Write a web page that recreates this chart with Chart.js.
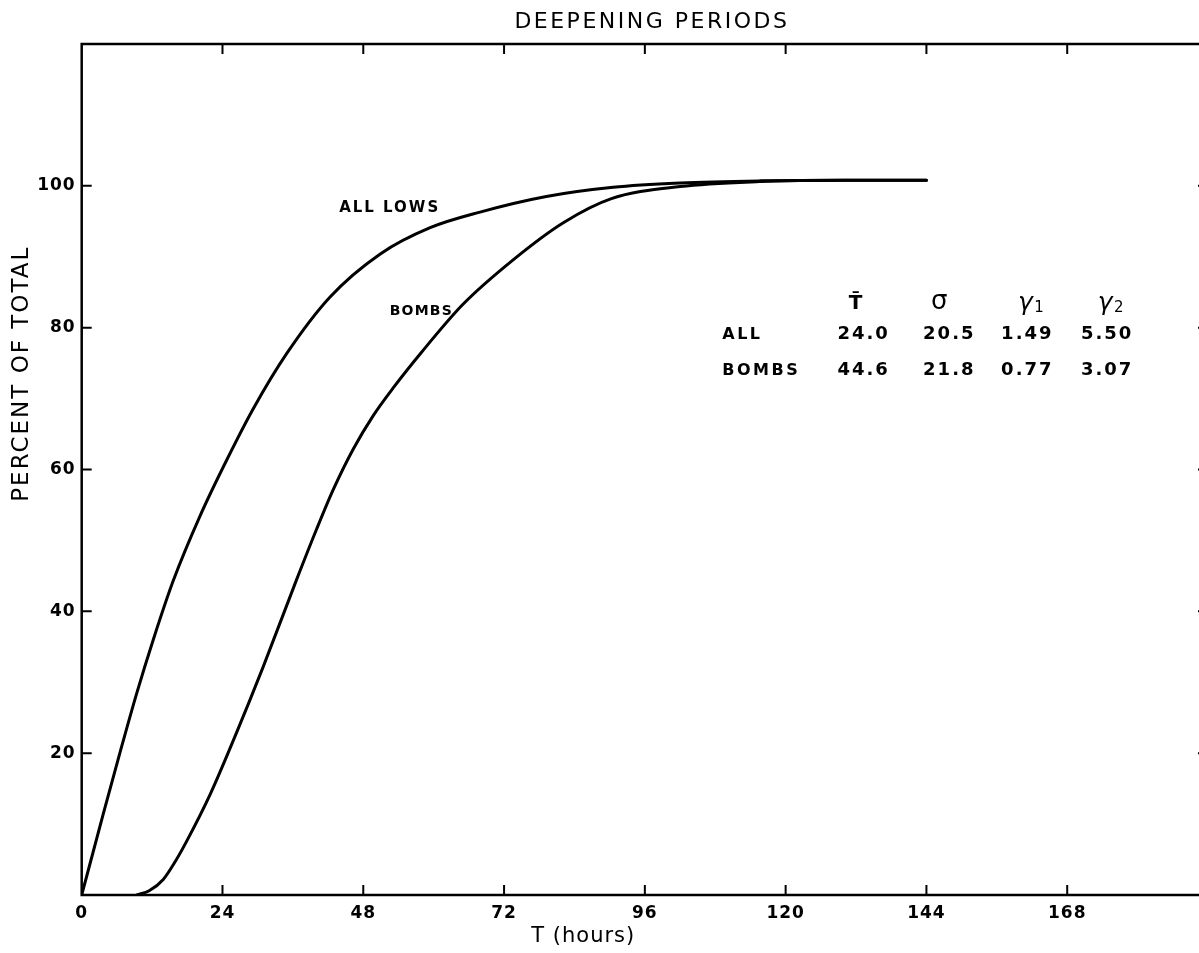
<!DOCTYPE html>
<html>
<head>
<meta charset="utf-8">
<script src="https://cdn.jsdelivr.net/npm/chart.js@4.4.1/dist/chart.umd.min.js"></script>
<style>
    html, body { margin: 0; padding: 0; background: #fff; overflow: hidden; }
    #wrap { position: absolute; left: 0; top: 0; width: 1212px; height: 953px; }
</style>
</head>
<body>
<div id="wrap"><canvas id="grafico" width="1212" height="953"></canvas></div>
<script>
// valores
var horasAll = [0, 3.7, 6.5, 9.4, 12.2, 15.6, 20.2, 24.7, 29.2, 34.9, 42.3, 50.9, 59.4, 67.9, 79.2, 90.6, 102, 115.6, 130, 144];
var pctAll = [0, 11.5, 20.0, 28.5, 36.0, 44.3, 53.5, 61.3, 68.5, 76.3, 84.3, 90.4, 94.1, 96.3, 98.5, 99.8, 100.4, 100.7, 100.8, 100.8];

var horasBombs = [9.4, 11.5, 13.9, 16.0, 17.9, 21.9, 26.4, 30.9, 36.6, 40.0, 42.9, 46.3, 49.7, 53.1, 57.9, 65, 73.6, 82.1, 90.3, 102, 115.6, 130, 144];
var pctBombs = [0, 0.6, 2.2, 4.8, 7.6, 14.2, 22.9, 32.1, 44.4, 51.5, 57.2, 62.9, 67.6, 71.5, 76.5, 83.3, 89.6, 94.8, 98.2, 99.9, 100.6, 100.8, 100.8];

var ticksX = [0, 24, 48, 72, 96, 120, 144, 168];
var ticksY = [20, 40, 60, 80, 100];

var nomesCurvas = ['ALL LOWS', 'BOMBS'];
var cabecalhoTabela = ['T\u0304', '\u03C3', '\u03B3', '\u03B3'];
var subscritos = ['', '', '1', '2'];
var linhasTabela = ['ALL', 'BOMBS'];
var estatAll = ['24.0', '20.5', '1.49', '5.50'];
var estatBombs = ['44.6', '21.8', '0.77', '3.07'];

var fonte = "'DejaVu Sans', sans-serif";

function pontos(xs, ys) {
    return xs.map(function (x, i) { return { x: x, y: ys[i] }; });
}

function texto(ctx, str, x, y, font, spacing, align, base) {
    ctx.save();
    ctx.font = font;
    ctx.letterSpacing = spacing + 'px';
    ctx.fillStyle = '#000';
    ctx.textAlign = align || 'center';
    ctx.textBaseline = base || 'middle';
    ctx.fillText(str, x, y);
    ctx.restore();
}

// moldura, marcas para dentro e textos
var extras = {
    id: 'extras',
    beforeDraw: function (chart) {
        chart.ctx.letterSpacing = '1px';
    },
    afterDraw: function (chart) {
        var ctx = chart.ctx;
        var a = chart.chartArea;
        var sx = chart.scales.x;
        var sy = chart.scales.y;
        var tam = 10;

        ctx.save();
        ctx.strokeStyle = '#000';
        ctx.lineWidth = 2.5;
        ctx.strokeRect(a.left, a.top, a.right - a.left, a.bottom - a.top);
        ctx.lineWidth = 2;
        ctx.beginPath();
        ticksX.forEach(function (v) {
            if (v === 0) return;
            var px = sx.getPixelForValue(v);
            ctx.moveTo(px, a.bottom); ctx.lineTo(px, a.bottom - tam);
            ctx.moveTo(px, a.top); ctx.lineTo(px, a.top + tam);
        });
        ticksY.forEach(function (v) {
            var py = sy.getPixelForValue(v);
            ctx.moveTo(a.left, py); ctx.lineTo(a.left + tam, py);
            ctx.moveTo(a.right, py); ctx.lineTo(a.right - tam, py);
        });
        ctx.stroke();
        ctx.restore();

        // titulos
        texto(ctx, 'DEEPENING PERIODS', sx.getPixelForValue(97.2), 22, '22px ' + fonte, 2.5);
        texto(ctx, 'T (hours)', sx.getPixelForValue(85.5), a.bottom + 42, '21px ' + fonte, 1);
        ctx.save();
        ctx.translate(a.left - 60, sy.getPixelForValue(73.5));
        ctx.rotate(-Math.PI / 2);
        texto(ctx, 'PERCENT OF TOTAL', 0, 0, '23px ' + fonte, 2);
        ctx.restore();

        // nomes das curvas
        texto(ctx, nomesCurvas[0], sx.getPixelForValue(52.5), sy.getPixelForValue(96.9), 'bold 15px ' + fonte, 2);
        texto(ctx, nomesCurvas[1], sx.getPixelForValue(57.9), sy.getPixelForValue(82.3), 'bold 14px ' + fonte, 1.2);

        // tabela
        var colunas = [133.3, 147.9, 161.2, 174.8];
        var yCab = sy.getPixelForValue(82.6);
        var yL1 = sy.getPixelForValue(78.4);
        var yL2 = sy.getPixelForValue(73.3);
        cabecalhoTabela.forEach(function (h, i) {
            var px = sx.getPixelForValue(colunas[i]);
            if (i === 0) {
                texto(ctx, h, px - 8, yCab, 'bold 20px ' + fonte, 0, 'center', 'alphabetic');
            } else if (i === 1) {
                texto(ctx, h, px - 10, yCab, '26px ' + fonte, 0, 'center', 'alphabetic');
            } else {
                texto(ctx, h, px - 2, yCab + 1, 'italic 25px ' + fonte, 0, 'center', 'alphabetic');
                texto(ctx, subscritos[i], px + 7, yCab + 3, '15px ' + fonte, 0, 'left', 'alphabetic');
            }
        });
        var xRot = sx.getPixelForValue(109.2);
        texto(ctx, linhasTabela[0], xRot, yL1, 'bold 16px ' + fonte, 2.5, 'left', 'alphabetic');
        texto(ctx, linhasTabela[1], xRot, yL2, 'bold 16px ' + fonte, 2.5, 'left', 'alphabetic');
        estatAll.forEach(function (v, i) {
            texto(ctx, v, sx.getPixelForValue(colunas[i]), yL1, 'bold 18px ' + fonte, 2, 'center', 'alphabetic');
        });
        estatBombs.forEach(function (v, i) {
            texto(ctx, v, sx.getPixelForValue(colunas[i]), yL2, 'bold 18px ' + fonte, 2, 'center', 'alphabetic');
        });
    }
};

var ctx = document.getElementById('grafico').getContext('2d');
var chart = new Chart(ctx, {
    type: 'line',
    data: {
        datasets: [{
            label: nomesCurvas[0],
            data: pontos(horasAll, pctAll),
            borderColor: '#000',
            borderWidth: 3,
            pointRadius: 0,
            fill: false,
            cubicInterpolationMode: 'monotone',
            borderCapStyle: 'round'
        },
        {
            label: nomesCurvas[1],
            data: pontos(horasBombs, pctBombs),
            borderColor: '#000',
            borderWidth: 3,
            pointRadius: 0,
            fill: false,
            cubicInterpolationMode: 'monotone',
            borderCapStyle: 'round'
        }]
    },
    options: {
        responsive: false,
        animation: false,
        layout: { padding: { top: 44, right: 4, left: 0, bottom: 0 } },
        plugins: {
            legend: { display: false },
            tooltip: { enabled: false },
            title: { display: false }
        },
        scales: {
            x: {
                type: 'linear',
                min: 0,
                max: 192,
                afterBuildTicks: function (s) { s.ticks = ticksX.map(function (v) { return { value: v }; }); },
                afterFit: function (s) { s.height = 58; },
                grid: { display: false, drawTicks: false },
                border: { display: false },
                ticks: {
                    color: '#000',
                    padding: 8,
                    maxRotation: 0,
                    autoSkip: false,
                    font: { family: fonte, size: 17, weight: 'bold' }
                }
            },
            y: {
                type: 'linear',
                min: 0,
                max: 120,
                afterBuildTicks: function (s) { s.ticks = ticksY.map(function (v) { return { value: v }; }); },
                afterFit: function (s) { s.width = 81.7; },
                grid: { display: false, drawTicks: false },
                border: { display: false },
                ticks: {
                    color: '#000',
                    padding: 6,
                    autoSkip: false,
                    font: { family: fonte, size: 17, weight: 'bold' }
                }
            }
        }
    },
    plugins: [extras]
});
</script>
</body>
</html>
